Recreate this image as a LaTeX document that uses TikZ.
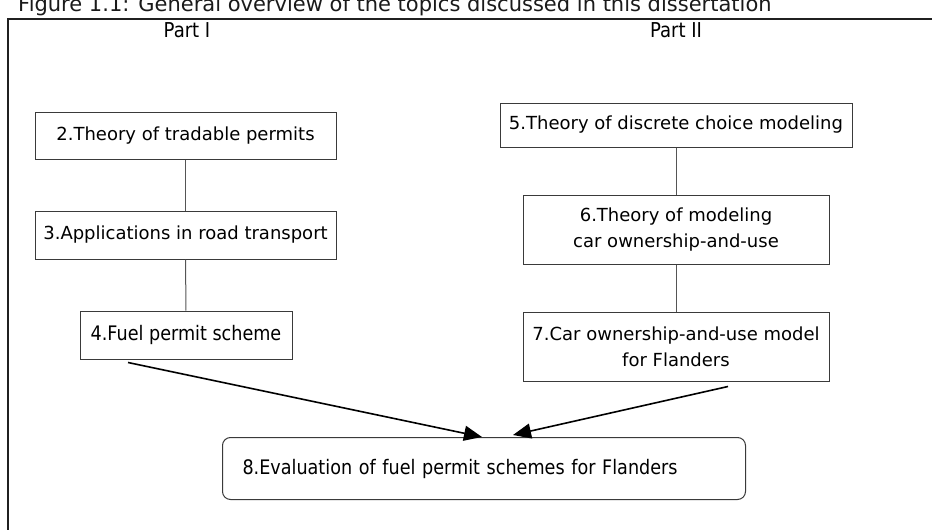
\documentclass[tikz,border=0pt]{standalone}
\usepackage{fontspec}
\setmainfont{DejaVu Sans}
\newfontfamily\narrowfont[FakeStretch=0.88]{DejaVu Sans}
\usetikzlibrary{arrows.meta}

\definecolor{boxgray}{HTML}{3A3A3A}
\definecolor{linkgray}{HTML}{555555}
\definecolor{captiongray}{HTML}{1A1A1A}
\definecolor{framegray}{HTML}{202020}

\begin{document}
\begin{tikzpicture}[x=1pt,y=-1pt,
  every node/.style={font=\fontsize{18}{26}\selectfont, inner sep=0pt},
  topicbox/.style={draw=boxgray, line width=1pt, align=center},
  narrowtext/.style={font=\narrowfont\fontsize{20}{26}\selectfont},
  partlabel/.style={font=\narrowfont\fontsize{20.5}{24}\selectfont},
  link/.style={draw=linkgray, line width=1pt},
  feed/.style={draw=black, line width=1.6pt, -{Triangle[length=18pt,width=15pt]}},
]
\useasboundingbox (0,0) rectangle (932,530);
\clip (0,0) rectangle (932,530);

% caption above the frame (cut by the page edge)
\node[anchor=base west, text=captiongray, font=\fontsize{21}{24}\selectfont] (cap) at (18,11)
  {Figure 1.1: General overview of the topics discussed in this dissertation};

% outer frame
\draw[line width=1.8pt, draw=framegray] (8,560) -- (8,19) -- (960,19);

% part headings
\node[partlabel] (p1) at (187,30) {Part I};
\node[partlabel] (p2) at (676,30) {Part II};

% Part I column
\node[topicbox, minimum width=301pt, minimum height=47pt] (t2) at (185.5,135.5)
  {2.Theory of tradable permits};
\node[topicbox, minimum width=301pt, minimum height=48pt] (t3) at (185.5,235)
  {3.Applications in road transport};
\node[topicbox, narrowtext, minimum width=212pt, minimum height=48pt] (t4) at (186,335)
  {4.Fuel permit scheme};

% Part II column
\node[topicbox, minimum width=352pt, minimum height=44pt] (t5) at (676,125)
  {5.Theory of discrete choice modeling};
\node[topicbox, minimum width=306pt, minimum height=69pt] (t6) at (676,229.5)
  {6.Theory of modeling\\car ownership-and-use};
\node[topicbox, minimum width=306pt, minimum height=69pt] (t7) at (676,346.5)
  {7.Car ownership-and-use model\\for Flanders};

% synthesis
\node[topicbox, narrowtext, rounded corners=8pt, anchor=north west,
      minimum height=62pt, inner xsep=20pt, text width=483pt, align=left]
  (t8) at (222,437) {8.Evaluation of fuel permit schemes for Flanders};

% vertical links
\draw[link] (t2) -- (t3);
\draw[link] (t3) -- (t4);
\draw[link] (t5) -- (t6);
\draw[link] (t6) -- (t7);

% arrows into the evaluation box
\coordinate (s4) at ([xshift=-58pt,yshift=-3pt]t4.south);
\coordinate (s7) at ([xshift=52pt,yshift=-5pt]t7.south);
\coordinate (e4) at ([xshift=260pt]t8.north west);
\coordinate (e7) at ([xshift=291pt,yshift=2pt]t8.north west);
\draw[feed] (s4) -- (e4);
\draw[feed] (s7) -- (e7);
\end{tikzpicture}
\end{document}
